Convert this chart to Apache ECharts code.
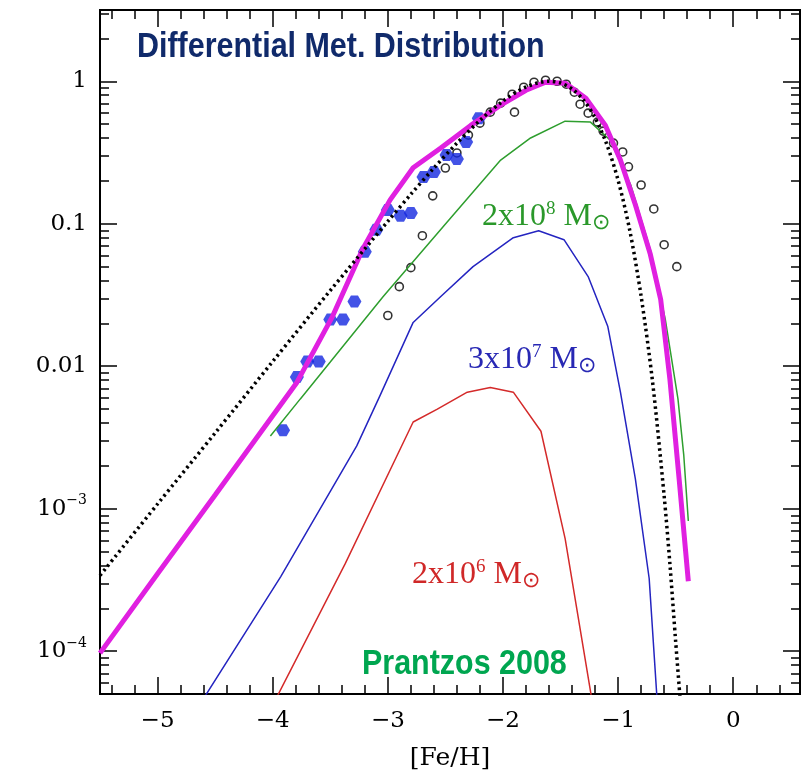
<!DOCTYPE html>
<html><head><meta charset="utf-8">
<script src="https://cdn.jsdelivr.net/npm/echarts@6/dist/echarts.min.js"></script>
<style>html,body{margin:0;padding:0;background:#fff}#c{width:802px;height:776px}</style>
</head><body><div id="c"></div>
<script>
// ---- tick values ----
const xMajorTicks = [-5, -4, -3, -2, -1, 0];
const xMinorTicks = [-5.4, -5.2, -4.8, -4.6, -4.4, -4.2, -3.8, -3.6, -3.4, -3.2, -2.8, -2.6, -2.4, -2.2,
  -1.8, -1.6, -1.4, -1.2, -0.8, -0.6, -0.4, -0.2, 0.2, 0.4];
const yMajorTicks = [1e-4, 1e-3, 0.01, 0.1, 1];
const yMinorTicks = [6e-5, 7e-5, 8e-5, 9e-5,
  2e-4, 3e-4, 4e-4, 5e-4, 6e-4, 7e-4, 8e-4, 9e-4,
  2e-3, 3e-3, 4e-3, 5e-3, 6e-3, 7e-3, 8e-3, 9e-3,
  0.02, 0.03, 0.04, 0.05, 0.06, 0.07, 0.08, 0.09,
  0.2, 0.3, 0.4, 0.5, 0.6, 0.7, 0.8, 0.9, 2, 3];
const yLabelText = {'-4': '10{s|−4}', '-3': '10{s|−3}', '-2': '0.01', '-1': '0.1', '0': '1'};

// ---- series values [Fe/H, dN/d[Fe/H]] ----
const totalModel = [[-5.5, 9.7e-5], [-5.0, 3.5e-4], [-4.5, 1.25e-3], [-4.0, 4.5e-3], [-3.79, 7.7e-3],
  [-3.48, 0.0224], [-3.22, 0.066], [-2.98, 0.147], [-2.78, 0.247], [-2.54, 0.34], [-2.28, 0.49],
  [-2.02, 0.68], [-1.80, 0.865], [-1.63, 0.985], [-1.46, 0.97], [-1.28, 0.76], [-1.11, 0.49],
  [-0.98, 0.28], [-0.85, 0.136], [-0.72, 0.061], [-0.63, 0.0294], [-0.55, 8.1e-3],
  [-0.47, 1.62e-3], [-0.39, 3.1e-4]];
const closedBox = [[-5.5, 3.4e-4], [-5.0, 1.08e-3], [-4.5, 3.4e-3], [-4.0, 0.0108], [-3.5, 0.034],
  [-3.0, 0.104], [-2.8, 0.161], [-2.6, 0.246], [-2.4, 0.368], [-2.2, 0.531], [-2.0, 0.726],
  [-1.8, 0.912], [-1.6, 1.0], [-1.5, 0.972], [-1.4, 0.883], [-1.3, 0.738], [-1.2, 0.554],
  [-1.1, 0.364], [-1.0, 0.202], [-0.9, 0.091], [-0.8, 0.031], [-0.7, 7.7e-3], [-0.6, 1.23e-3],
  [-0.55, 4.1e-4], [-0.5, 1.17e-4], [-0.46, 4.5e-5]];
const model2e8 = [[-4.02, 3.24e-3], [-3.76, 5.9e-3], [-3.50, 0.0107], [-3.04, 0.0309], [-2.52, 0.0953],
  [-2.02, 0.28], [-1.76, 0.40], [-1.46, 0.525], [-1.24, 0.517], [-1.07, 0.387], [-0.89, 0.187],
  [-0.72, 0.0658], [-0.59, 0.0213], [-0.48, 5.9e-3], [-0.43, 2.4e-3], [-0.39, 8.2e-4]];
const model3e7 = [[-4.62, 4.4e-5], [-3.93, 3.34e-4], [-3.27, 2.76e-3], [-3.07, 6.17e-3], [-2.78, 0.0203],
  [-2.54, 0.0309], [-2.26, 0.050], [-1.91, 0.0798], [-1.69, 0.0893], [-1.47, 0.0773], [-1.26, 0.0426],
  [-1.09, 0.0191], [-0.98, 6.6e-3], [-0.85, 1.62e-3], [-0.73, 3.24e-4], [-0.66, 4.4e-5]];
const model2e6 = [[-3.98, 4.5e-5], [-3.37, 4.12e-4], [-2.78, 4.06e-3], [-2.57, 5.0e-3], [-2.31, 6.58e-3],
  [-2.11, 7.1e-3], [-1.91, 6.58e-3], [-1.67, 3.5e-3], [-1.46, 6.17e-4], [-1.23, 4.7e-5]];
const haloStars = [[-3.91, 3.56e-3], [-3.79, 8.4e-3], [-3.70, 0.0108], [-3.60, 0.0108], [-3.50, 0.0213],
  [-3.39, 0.0213], [-3.29, 0.0285], [-3.20, 0.0637], [-3.10, 0.0908], [-3.00, 0.125], [-2.89, 0.114],
  [-2.80, 0.119], [-2.69, 0.213], [-2.60, 0.231], [-2.49, 0.304], [-2.40, 0.285], [-2.32, 0.374],
  [-2.21, 0.551]];
const openPoints = [[-3.00, 0.0227], [-2.90, 0.0362], [-2.80, 0.0492], [-2.70, 0.0824], [-2.61, 0.157],
  [-2.50, 0.246], [-2.40, 0.314], [-2.30, 0.419], [-2.20, 0.508], [-2.11, 0.607], [-2.02, 0.702],
  [-1.92, 0.811], [-1.90, 0.607], [-1.82, 0.908], [-1.73, 0.984], [-1.63, 1.016], [-1.53, 1.0],
  [-1.45, 0.953], [-1.38, 0.838], [-1.33, 0.69], [-1.26, 0.597], [-1.18, 0.517], [-1.13, 0.447],
  [-1.04, 0.368], [-0.96, 0.319], [-0.91, 0.251], [-0.80, 0.187], [-0.69, 0.127], [-0.60, 0.0713],
  [-0.49, 0.050]];

const XMIN = -5.5, XMAX = 0.58, YMIN = Math.pow(10, -4.3), YMAX = Math.pow(10, 0.5);
const serif = '"DejaVu Serif", "Liberation Serif", serif';
const lserif = '"Liberation Serif", serif';
const sans = '"Liberation Sans", Arial, sans-serif';

function xAx(pos, ticks, len, labels) {
  return {
    type: 'value', position: pos, min: XMIN, max: XMAX,
    axisLine: {show: true, onZero: false, lineStyle: {color: '#000', width: 2}},
    splitLine: {show: false},
    axisTick: {show: true, inside: true, length: len, customValues: ticks, lineStyle: {color: '#000', width: 1.5}},
    axisLabel: labels ? {show: true, customValues: xMajorTicks, margin: 16, color: '#000',
      fontFamily: serif, fontSize: 23,
      formatter: v => (v < 0 ? '−' + Math.abs(v) : String(v))} : {show: false},
    name: labels ? '[Fe/H]' : '', nameLocation: 'middle', nameGap: 52,
    nameTextStyle: {fontFamily: serif, fontSize: 25, color: '#000'}
  };
}
function yAx(pos, ticks, len, labels) {
  return {
    type: 'log', logBase: 10, position: pos, min: YMIN, max: YMAX,
    axisLine: {show: true, onZero: false, lineStyle: {color: '#000', width: 2}},
    splitLine: {show: false}, minorTick: {show: false},
    axisTick: {show: true, inside: true, length: len, customValues: ticks, lineStyle: {color: '#000', width: 1.5}},
    axisLabel: labels ? {show: true, customValues: yMajorTicks, margin: 13, color: '#000',
      fontFamily: serif, fontSize: 23,
      formatter: v => yLabelText[String(Math.round(Math.log10(v)))],
      rich: {s: {fontFamily: serif, fontSize: 14, verticalAlign: 'top', lineHeight: 30, color: '#000'}}
    } : {show: false}
  };
}

const chart = echarts.init(document.getElementById('c'), null, {renderer: 'canvas'});
const grid = {left: 100, top: 10, width: 700, height: 685, containLabel: false};
const lineS = (name, data, color, width, extra) => Object.assign({
  type: 'line', name, data, xAxisIndex: 0, yAxisIndex: 0, symbol: 'none', clip: true,
  lineStyle: {color, width}, animation: false, silent: true
}, extra || {});
const massRich = c => ({
  s: {fontSize: 19, verticalAlign: 'top', fill: c, fontFamily: lserif},
  m: {fontSize: 22, verticalAlign: 'bottom', padding: [12, 0, 0, 0], fill: c, fontFamily: lserif}
});

chart.setOption({
  animation: false,
  backgroundColor: '#fff',
  grid,
  xAxis: [xAx('bottom', xMajorTicks, 17, true), xAx('bottom', xMinorTicks, 9, false),
          xAx('top', xMajorTicks, 17, false), xAx('top', xMinorTicks, 9, false)],
  yAxis: [yAx('left', yMajorTicks, 17, true), yAx('left', yMinorTicks, 9, false),
          yAx('right', yMajorTicks, 17, false), yAx('right', yMinorTicks, 9, false)],
  series: [
    lineS('2e6', model2e6, '#d42a2a', 1.5),
    lineS('3e7', model3e7, '#2424c0', 1.5),
    lineS('2e8', model2e8, '#2e9e2e', 1.5),
    lineS('total', totalModel, '#e020e0', 5),
    lineS('closed box', closedBox, '#000', 3.5, {smooth: 0.3, lineStyle: {color: '#000', width: 3.5, type: [2.5, 3.5]}}),
    {type: 'scatter', name: 'open', data: openPoints, symbol: 'circle', symbolSize: 8,
      itemStyle: {color: 'rgba(255,255,255,0)', borderColor: '#000', borderWidth: 1.6}, silent: true},
    {type: 'scatter', name: 'halo', data: haloStars,
      symbol: 'path://M5,0 L15,0 L20,8.66 L15,17.32 L5,17.32 L0,8.66 Z', symbolSize: [14, 12],
      itemStyle: {color: '#1428e0'}, silent: true}
  ],
  graphic: [
    {type: 'text', x: 137, y: 47, scaleX: 0.87, style: {text: 'Differential Met. Distribution', fill: '#102a6b',
      font: 'bold 35px ' + sans, verticalAlign: 'middle'}},
    {type: 'text', x: 362, y: 664, scaleX: 0.87, style: {text: 'Prantzos 2008', fill: '#00a650',
      font: 'bold 35px ' + sans, verticalAlign: 'middle'}},
    {type: 'text', left: 482, top: 200, style: {text: '2x10{s|8} M{m|⊙}', fill: '#2a982a',
      font: '32px ' + lserif, rich: massRich('#2a982a')}},
    {type: 'text', left: 468, top: 343, style: {text: '3x10{s|7} M{m|⊙}', fill: '#2828b4',
      font: '32px ' + lserif, rich: massRich('#2828b4')}},
    {type: 'text', left: 412, top: 558, style: {text: '2x10{s|6} M{m|⊙}', fill: '#d02828',
      font: '32px ' + lserif, rich: massRich('#d02828')}}
  ]
});
</script></body></html>
